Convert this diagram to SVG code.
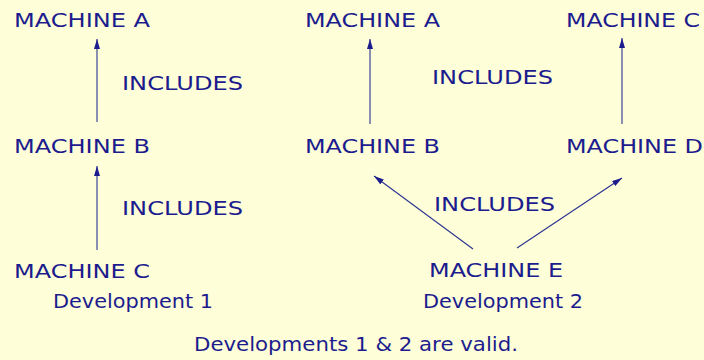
<svg xmlns="http://www.w3.org/2000/svg" width="704" height="360" viewBox="0 0 704 360">
  <defs>
    <style>
      text { font-family: "DejaVu Sans", "Liberation Sans", sans-serif; font-size: 19px; fill: #1c1c8e; }
      .edge { stroke: #2a3490; stroke-width: 1.1; fill: none; marker-end: url(#head); }
    </style>
    <marker id="head" viewBox="0 0 10 6" refX="10" refY="3" markerWidth="10" markerHeight="6" markerUnits="userSpaceOnUse" orient="auto">
      <path d="M0,0 L10,3 L0,6 Z" fill="#1c1c8e"/>
    </marker>
  </defs>
  <rect width="704" height="360" fill="#fefed8"/>

  <!-- Development 1 -->
  <g id="d1-machine-a"><text x="14" y="27" textLength="136" lengthAdjust="spacingAndGlyphs">MACHINE A</text></g>
  <g id="d1-machine-b"><text x="14" y="153" textLength="136" lengthAdjust="spacingAndGlyphs">MACHINE B</text></g>
  <g id="d1-machine-c"><text x="14" y="278" textLength="136" lengthAdjust="spacingAndGlyphs">MACHINE C</text></g>
  <text x="53" y="308" textLength="160" lengthAdjust="spacingAndGlyphs">Development 1</text>

  <!-- Development 2 -->
  <g id="d2-machine-a"><text x="305" y="27" textLength="135" lengthAdjust="spacingAndGlyphs">MACHINE A</text></g>
  <g id="d2-machine-c"><text x="566" y="27" textLength="134" lengthAdjust="spacingAndGlyphs">MACHINE C</text></g>
  <g id="d2-machine-b"><text x="305" y="153" textLength="135" lengthAdjust="spacingAndGlyphs">MACHINE B</text></g>
  <g id="d2-machine-d"><text x="566" y="153" textLength="137" lengthAdjust="spacingAndGlyphs">MACHINE D</text></g>
  <g id="d2-machine-e"><text x="429" y="277" textLength="134" lengthAdjust="spacingAndGlyphs">MACHINE E</text></g>
  <text x="423" y="308" textLength="160" lengthAdjust="spacingAndGlyphs">Development 2</text>

  <text x="194" y="351" textLength="324" lengthAdjust="spacingAndGlyphs">Developments 1 &amp; 2 are valid.</text>

  <!-- connectors -->
  <g id="connectors">
    <line class="edge" x1="97" y1="122" x2="97" y2="39"/>
    <text x="122" y="90" textLength="121" lengthAdjust="spacingAndGlyphs">INCLUDES</text>
    <line class="edge" x1="97" y1="250" x2="97" y2="166"/>
    <text x="122" y="215" textLength="121" lengthAdjust="spacingAndGlyphs">INCLUDES</text>

    <line class="edge" x1="370" y1="124" x2="370" y2="39"/>
    <line class="edge" x1="622" y1="124" x2="622" y2="38"/>
    <text x="432" y="84" textLength="121" lengthAdjust="spacingAndGlyphs">INCLUDES</text>

    <line class="edge" x1="473" y1="249" x2="374" y2="176"/>
    <line class="edge" x1="517" y1="248" x2="622" y2="178"/>
    <text x="434" y="211" textLength="121" lengthAdjust="spacingAndGlyphs">INCLUDES</text>
  </g>
</svg>
